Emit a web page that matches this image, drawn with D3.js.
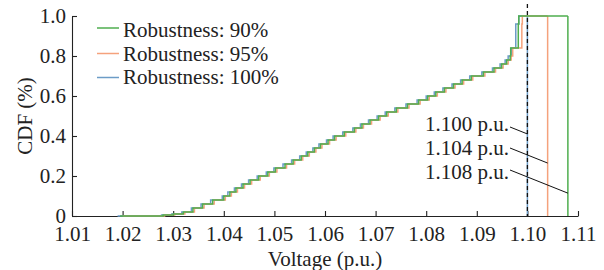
<!DOCTYPE html>
<html>
<head>
<meta charset="utf-8">
<script src="https://cdn.jsdelivr.net/npm/d3@7"></script>
<style>
body { margin: 0; background: #fff; }
svg text { font-family: "Liberation Serif", "Times New Roman", serif; fill: #222; }
</style>
</head>
<body>
<svg id="chart" width="604" height="270"></svg>
<script>
// legend names, in draw order of the legend
var seriesNames = ["Robustness: 90%", "Robustness: 95%", "Robustness: 100%"];
var seriesColors = ["#4fae4f", "#f5a27c", "#6c9cc7"];

// CDF levels reached at each step
var levels = [0, 0.005, 0.01, 0.02, 0.04, 0.06, 0.08, 0.10, 0.12, 0.14, 0.16, 0.18, 0.20, 0.22, 0.24,
	0.26, 0.28, 0.30, 0.32, 0.34, 0.36, 0.38, 0.40, 0.42, 0.44, 0.46, 0.48, 0.50, 0.52, 0.54, 0.56,
	0.58, 0.60, 0.62, 0.64, 0.66, 0.68, 0.70, 0.72, 0.74, 0.76, 0.78, 0.80, 0.84, 0.96, 1.00];

// voltage (p.u.) where each level is reached
var volt90 = [1.0195, 1.0280, 1.0300, 1.0320, 1.0339, 1.0358, 1.0378, 1.0400, 1.0412, 1.0424, 1.0438,
	1.0452, 1.0469, 1.0487, 1.0502, 1.0521, 1.0537, 1.0553, 1.0566, 1.0579, 1.0591, 1.0606, 1.0619,
	1.0638, 1.0658, 1.0673, 1.0689, 1.0706, 1.0722, 1.0741, 1.0763, 1.0785, 1.0803, 1.0819, 1.0836,
	1.0854, 1.0871, 1.0889, 1.0913, 1.0934, 1.0949, 1.0959, 1.0966, 1.0967, 1.0982, 1.0983];
var volt95 = [1.0200, 1.0283, 1.0303, 1.0323, 1.0342, 1.0361, 1.0381, 1.0403, 1.0415, 1.0427, 1.0441,
	1.0455, 1.0472, 1.0490, 1.0505, 1.0524, 1.0540, 1.0556, 1.0569, 1.0582, 1.0594, 1.0609, 1.0622,
	1.0641, 1.0661, 1.0676, 1.0692, 1.0709, 1.0725, 1.0744, 1.0766, 1.0788, 1.0806, 1.0822, 1.0839,
	1.0857, 1.0874, 1.0892, 1.0916, 1.0937, 1.0952, 1.0962, 1.0968, 1.0971, 1.0989, 1.0990];
var volt100 = [1.0190, 1.0277, 1.0297, 1.0317, 1.0336, 1.0355, 1.0374, 1.0397, 1.0408, 1.0421, 1.0435,
	1.0449, 1.0466, 1.0484, 1.0499, 1.0517, 1.0534, 1.0550, 1.0563, 1.0576, 1.0588, 1.0603, 1.0616,
	1.0635, 1.0655, 1.0670, 1.0686, 1.0703, 1.0719, 1.0738, 1.0760, 1.0782, 1.0800, 1.0816, 1.0833,
	1.0851, 1.0868, 1.0886, 1.0910, 1.0931, 1.0946, 1.0956, 1.0962, 1.0968, 1.0977, 1.0983];

// maximum voltage of each series
var maxVolt = [1.108, 1.104, 1.100];
var maxLabels = ["1.100 p.u.", "1.104 p.u.", "1.108 p.u."];
var limitVolt = 1.10;

var xTicks = [1.01, 1.02, 1.03, 1.04, 1.05, 1.06, 1.07, 1.08, 1.09, 1.10, 1.11];
var yTicks = [0, 0.2, 0.4, 0.6, 0.8, 1.0];

var width = 604, height = 270;
var margin = { top: 16, right: 26, bottom: 54, left: 72 };
var fontSize = 21;

var svg = d3.select("#chart");

var xScale = d3.scaleLinear()
	.domain([1.01, 1.11])
	.range([margin.left, width - margin.right]);

var yScale = d3.scaleLinear()
	.domain([0, 1])
	.range([height - margin.bottom, margin.top]);

// axes, ticks pointing inward
var xAxis = d3.axisBottom(xScale)
	.tickValues(xTicks)
	.tickSize(-5)
	.tickSizeOuter(0)
	.tickPadding(10)
	.tickFormat(d3.format(".2f"));

var yAxis = d3.axisLeft(yScale)
	.tickValues(yTicks)
	.tickSize(-5)
	.tickSizeOuter(0)
	.tickPadding(6)
	.tickFormat(function(d) {
		return d === 0 ? "0" : d3.format(".1f")(d);
	});

var gx = svg.append("g")
	.attr("transform", "translate(0," + (height - margin.bottom) + ")")
	.call(xAxis);

var gy = svg.append("g")
	.attr("transform", "translate(" + margin.left + ",0)")
	.call(yAxis);

[gx, gy].forEach(function(g) {
	g.selectAll("path, line").attr("stroke", "#222").attr("stroke-width", 1.1);
	g.selectAll("text")
		.attr("font-size", fontSize)
		.attr("font-family", "'Liberation Serif', 'Times New Roman', serif")
		.attr("fill", "#222");
});

// step lines, blue first so green ends up on top
var series = [
	{ volts: volt90, color: seriesColors[0], max: maxVolt[0] },
	{ volts: volt95, color: seriesColors[1], max: maxVolt[1] },
	{ volts: volt100, color: seriesColors[2], max: maxVolt[2] }
];

var line = d3.line()
	.x(function(d) { return xScale(d[0]); })
	.y(function(d) { return yScale(d[1]); })
	.curve(d3.curveStepAfter);

var content = svg.append("g").attr("class", "content");

series.slice().reverse().forEach(function(s) {
	var pts = s.volts.map(function(v, i) {
		return [v, levels[i]];
	});
	pts.push([s.max, 1]);

	content.append("path")
		.attr("d", line(pts))
		.attr("fill", "none")
		.attr("stroke", s.color)
		.attr("stroke-width", 1.5);

	// marker at the maximum voltage
	content.append("line")
		.attr("x1", xScale(s.max))
		.attr("x2", xScale(s.max))
		.attr("y1", yScale(0))
		.attr("y2", yScale(1))
		.attr("stroke", s.color)
		.attr("stroke-width", 1.5);
});

// voltage limit
content.append("line")
	.attr("x1", xScale(limitVolt))
	.attr("x2", xScale(limitVolt))
	.attr("y1", 4)
	.attr("y2", yScale(0))
	.attr("stroke", "#111")
	.attr("stroke-width", 1.3)
	.attr("stroke-dasharray", "4,3");

// annotations of the maximum voltages
var annoBase = [130.5, 154.5, 178.5];
var annoStartY = [127, 148, 170];
var annoMax = [maxVolt[2], maxVolt[1], maxVolt[0]];
var textRight = 509;

maxLabels.forEach(function(lbl, i) {
	svg.append("text")
		.attr("x", textRight)
		.attr("y", annoBase[i])
		.attr("text-anchor", "end")
		.attr("font-size", fontSize)
		.text(lbl);

	var x1 = textRight + 1;
	var x2 = xScale(annoMax[i]);
	svg.append("line")
		.attr("x1", x1)
		.attr("y1", annoStartY[i])
		.attr("x2", x2)
		.attr("y2", annoStartY[i] + (x2 - x1) * 0.4)
		.attr("stroke", "#111")
		.attr("stroke-width", 1);
});

// legend
var legend = svg.append("g").attr("class", "legend");
var legendLineY = [28, 53.5, 77.5];
var legendTextY = [36.5, 60.5, 84];

seriesNames.forEach(function(name, i) {
	legend.append("line")
		.attr("x1", 97)
		.attr("x2", 119)
		.attr("y1", legendLineY[i])
		.attr("y2", legendLineY[i])
		.attr("stroke", seriesColors[i])
		.attr("stroke-width", 1.5);
	legend.append("text")
		.attr("x", 123)
		.attr("y", legendTextY[i])
		.attr("font-size", fontSize)
		.text(name);
});

// axis titles
svg.append("text")
	.attr("x", (margin.left + width - margin.right) / 2)
	.attr("y", 266)
	.attr("text-anchor", "middle")
	.attr("font-size", fontSize)
	.text("Voltage (p.u.)");

svg.append("text")
	.attr("transform", "translate(32,116) rotate(-90)")
	.attr("text-anchor", "middle")
	.attr("font-size", fontSize)
	.text("CDF (%)");
</script>
</body>
</html>
